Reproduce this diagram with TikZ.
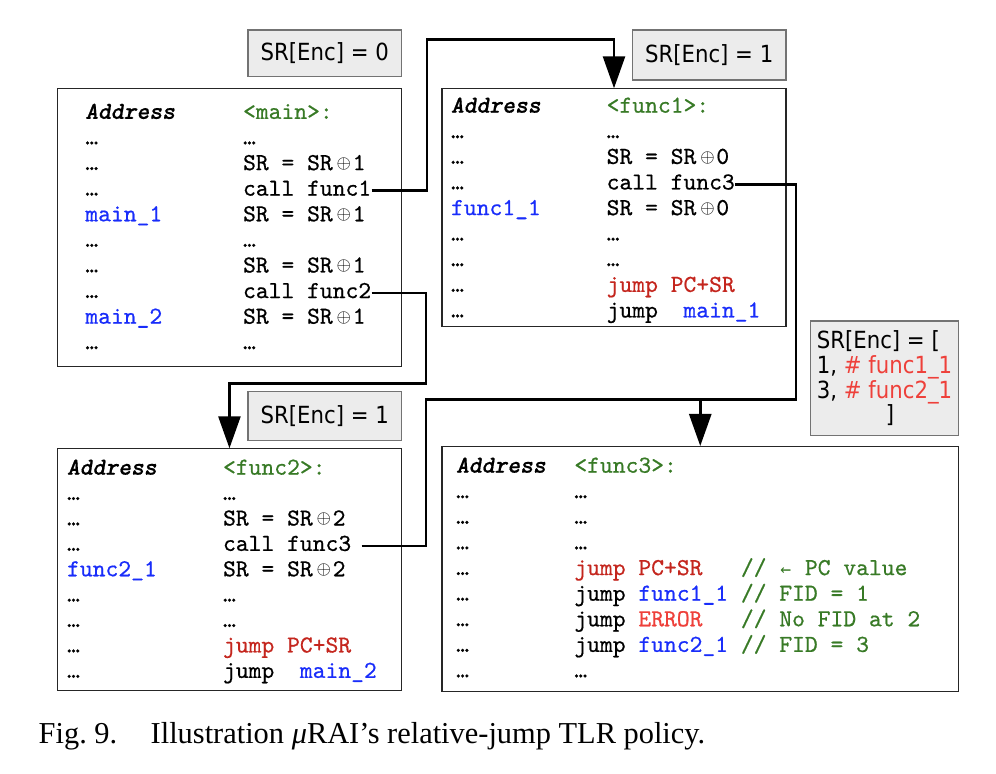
\documentclass[tikz,border=0pt]{standalone}
\usepackage{fontspec}
\usetikzlibrary{positioning}
\usetikzlibrary{matrix}
\usetikzlibrary{arrows.meta}

\newfontfamily\labelfont{DejaVu Sans}[FakeStretch=0.9]
\newfontfamily\arrowfont{DejaVu Sans Mono}
\newfontfamily\capfont{Liberation Serif}
\newfontfamily\codemono{lmmono10-regular.otf}[FakeBold=0.6,
  BoldFont=lmmonolt10-bold.otf, SlantedFont=lmmonoslant10-regular.otf,
  BoldSlantedFont=lmmonolt10-boldoblique.otf]

\definecolor{codegreen}{RGB}{56,122,38}
\definecolor{codeblue}{RGB}{25,45,250}
\definecolor{codered}{RGB}{196,38,30}
\definecolor{errred}{RGB}{238,64,58}
\definecolor{labelgray}{RGB}{236,236,236}

\newcommand{\codefont}{\codemono\fontsize{12.2}{12.8}\selectfont}
\newcommand{\encfont}{\labelfont\fontsize{11.8}{12.4}\selectfont}
\newcommand{\addrhead}{{\bfseries\slshape Address}}
\newcommand{\srxor}[1]{SR = SR\hspace{2pt}\raisebox{0.8pt}{\fontsize{8.6}{9}\selectfont$\oplus$}\hspace{0.8pt}#1}
\newcommand{\larrow}{\makebox[0.525em]{\arrowfont\fontsize{9}{9}\selectfont ←}}

\tikzset{
  codebox/.style={draw=black!85, line width=0.6pt, inner sep=0pt, anchor=north west},
  code/.style={matrix of nodes, inner sep=0pt, anchor=north west, row sep=1.8pt,
    nodes={anchor=base west, inner sep=0pt, text height=8pt, text depth=3pt, font=\codefont}},
  enclabel/.style={draw=black!55, fill=labelgray, line width=0.6pt, inner sep=0pt,
    minimum width=76.8pt, font=\encfont},
  wire/.style={line width=1.3pt},
  flow/.style={wire, -{Triangle[length=16pt,width=11pt]}}
}

\begin{document}
\begin{tikzpicture}[x=0.5pt,y=-0.5pt]
  \useasboundingbox (0,0) rectangle (996,774);

  %% the four code boxes
  \node[codebox, minimum width=172.15pt, minimum height=138.7pt] (mainbox) at (56.7,88.3) {};
  \node[codebox, minimum width=172pt, minimum height=118.85pt] (f1box) at (441.4,88.3) {};
  \node[codebox, minimum width=172.15pt, minimum height=120.85pt] (f2box) at (56.7,448.3) {};
  \node[codebox, minimum width=258.25pt, minimum height=122.25pt] (f3box) at (441.4,446) {};

  %% code listings
  \matrix (maincode) [code, column sep=34pt] at (85,102.5)
  {
    \addrhead & |[text=codegreen]| <main>: \\
    … & … \\
    … & \srxor{1} \\
    … & call func1 \\
    |[text=codeblue]| main\_1 & \srxor{1} \\
    … & … \\
    … & \srxor{1} \\
    … & call func2 \\
    |[text=codeblue]| main\_2 & \srxor{1} \\
    … & … \\
  };
  \matrix (f1code) [code, column sep=32.95pt] at (450.7,96.3)
  {
    \addrhead & |[text=codegreen]| <func1>: \\
    … & … \\
    … & \srxor{0} \\
    … & call func3 \\
    |[text=codeblue]| func1\_1 & \srxor{0} \\
    … & … \\
    … & … \\
    … & |[text=codered]| jump PC+SR \\
    … & jump\ \ {\color{codeblue}main\_1} \\
  };
  \matrix (f2code) [code, column sep=33.15pt, row sep=1.7pt] at (66.7,458.3)
  {
    \addrhead & |[text=codegreen]| <func2>: \\
    … & … \\
    … & \srxor{2} \\
    … & call func3 \\
    |[text=codeblue]| func2\_1 & \srxor{2} \\
    … & … \\
    … & … \\
    … & |[text=codered]| jump PC+SR \\
    … & jump\ \ {\color{codeblue}main\_2} \\
  };
  \matrix (f3code) [code, column sep=14.25pt] at (455.8,456.3)
  {
    \addrhead & |[text=codegreen]| <func3>: \\
    … & … \\
    … & … \\
    … & … \\
    … & |[text=codered]| jump PC+SR\ \ \ {\color{codegreen}// \larrow{} PC value} \\
    … & jump {\color{codeblue}func1\_1} {\color{codegreen}// FID = 1} \\
    … & jump {\color{errred}ERROR}\ \ \ {\color{codegreen}// No FID at 2} \\
    … & jump {\color{codeblue}func2\_1} {\color{codegreen}// FID = 3} \\
    … & … \\
  };

  %% SR[Enc] labels
  \node[enclabel, minimum height=23.3pt, above left=5.5pt and 0pt of mainbox.north east] (enc0) {SR[Enc] = 0};
  \node[enclabel, minimum height=25pt, above left=3.8pt and 0pt of f1box.north east] (enc1) {SR[Enc] = 1};
  \node[enclabel, minimum height=24.35pt, above left=3.65pt and 0pt of f2box.north east] (enc2) {SR[Enc] = 1};
  \node[enclabel, minimum width=74pt, minimum height=57.15pt, align=left,
        above left=5pt and 0pt of f3box.north east] (encset)
        {SR[Enc] = [\\1, {\color{errred}\# func1\_1}\\3, {\color{errred}\# func2\_1}\\\hspace*{34.5pt}]};

  %% calls
  \coordinate (up1) at (427,39.5);
  \coordinate (down2) at (426,383.3);
  \coordinate (join3) at (426,399.5);
  \coordinate (turn3) at (796,399.5);
  \draw[flow] (maincode-4-2.east) -| (up1) -| (f1box.north);
  \draw[flow] (maincode-8-2.east) -| (down2) -| (f2box.north);
  \draw[wire, shorten <=5pt] (f2code-4-2.east) -| (join3) -- (turn3) |- (f1code-4-2.east);
  \draw[flow] (f3box.north |- turn3) -- (f3box.north);

  \node[anchor=base west, inner sep=0pt, font=\capfont\fontsize{15.2}{18}\selectfont] (caption) at (38.3,743.3)
    {Fig.~9.\hspace{16.75pt}Illustration {\itshape μ}RAI’s relative-jump TLR policy.};
\end{tikzpicture}
\end{document}
